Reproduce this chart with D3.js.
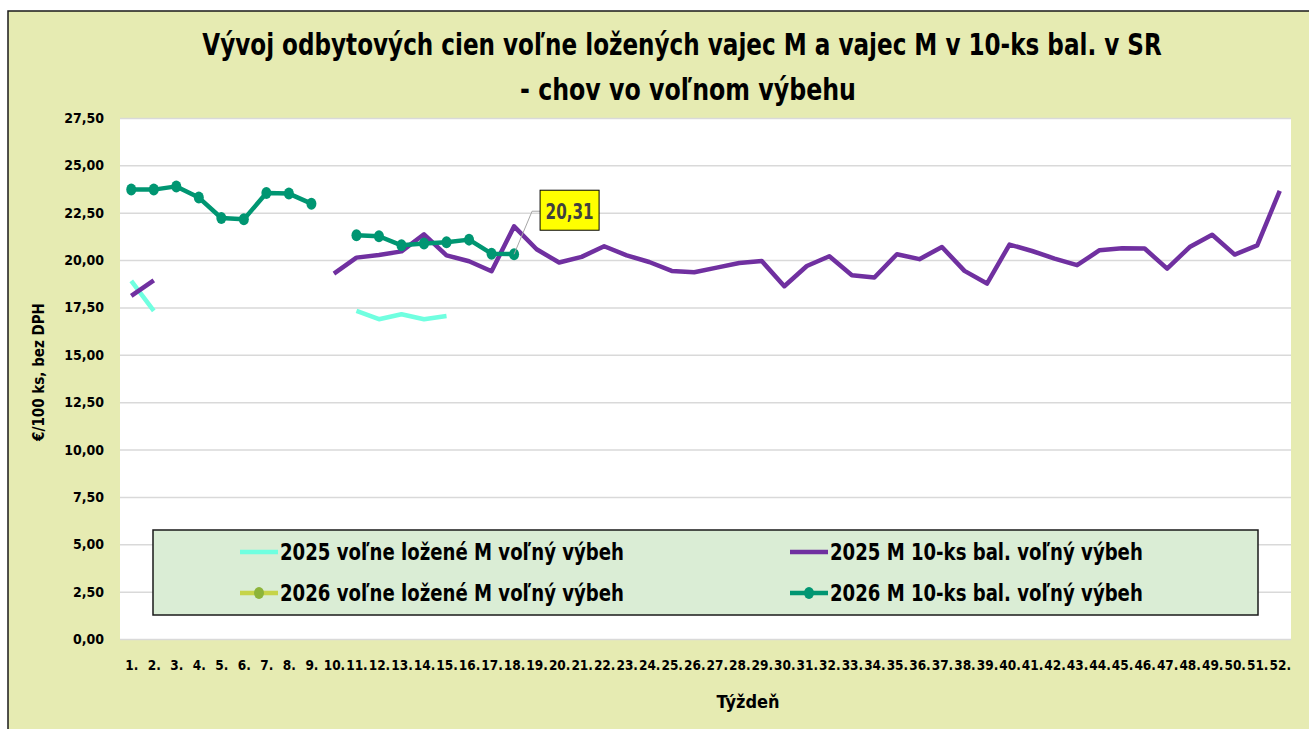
<!DOCTYPE html>
<html>
<head>
<meta charset="utf-8">
<script src="https://cdn.jsdelivr.net/npm/d3@7"></script>
<style>
  body { margin: 0; background: #fff; }
  svg text { font-family: "DejaVu Sans Condensed", "Liberation Sans Narrow", sans-serif; font-weight: bold; }
</style>
</head>
<body>
<svg id="chart" width="1309" height="729"></svg>
<script>
// týždne
const weeks = ["1.","2.","3.","4.","5.","6.","7.","8.","9.","10.","11.","12.","13.","14.","15.","16.","17.","18.",
  "19.","20.","21.","22.","23.","24.","25.","26.","27.","28.","29.","30.","31.","32.","33.","34.","35.","36.",
  "37.","38.","39.","40.","41.","42.","43.","44.","45.","46.","47.","48.","49.","50.","51.","52."]

const yTicks = [0, 2.5, 5, 7.5, 10, 12.5, 15, 17.5, 20, 22.5, 25, 27.5]

// 2025 voľne ložené M voľný výbeh
const loose2025 = [18.90, 17.32, null, null, null, null, null, null, null, null,
  17.32, 16.88, 17.14, 16.88, 17.05]

// 2025 M 10-ks bal. voľný výbeh
const pack2025 = [18.11, 18.93, null, null, null, null, null, null, null,
  19.29, 20.13, 20.27, 20.46, 21.36, 20.25, 19.94, 19.41, 21.78, 20.57, 19.87,
  20.17, 20.73, 20.25, 19.90, 19.43, 19.36, 19.60, 19.85, 19.95, 18.62, 19.69,
  20.20, 19.20, 19.08, 20.31, 20.05, 20.69, 19.43, 18.76, 20.82, 20.48, 20.08,
  19.73, 20.52, 20.62, 20.61, 19.55, 20.69, 21.34, 20.29, 20.78, 23.65]

// 2026 voľne ložené M voľný výbeh (zatiaľ bez údajov)
const loose2026 = []

// 2026 M 10-ks bal. voľný výbeh
const pack2026 = [23.72, 23.72, 23.89, 23.30, 22.22, 22.15, 23.54, 23.51, 22.98, null,
  21.31, 21.26, 20.78, 20.87, 20.94, 21.08, 20.34, 20.31]

const seriesNames = ["2025 voľne ložené M voľný výbeh", "2025 M 10-ks bal. voľný výbeh",
  "2026 voľne ložené M voľný výbeh", "2026 M 10-ks bal. voľný výbeh"]

const series = [
  {name: seriesNames[0], values: loose2025, color: "#70FFE0", marker: null, w: 344},
  {name: seriesNames[1], values: pack2025, color: "#7030A0", marker: null, w: 313},
  {name: seriesNames[2], values: loose2026, color: "#C6D449", marker: "#8DB43A", w: 344},
  {name: seriesNames[3], values: pack2026, color: "#009672", marker: "#009672", w: 313}
]

const svg = d3.select("#chart")
const plot = {left: 120, right: 1291, top: 118, bottom: 639}

// vodorovne zúži text (cez transform) na cieľovú šírku
function squeeze(parent, cx, cy, size, txt, target, anchor) {
  const g = parent.append("g")
  const t = g.append("text")
     .attr("text-anchor", anchor || "middle")
     .style("font-size", size + "px")
     .text(txt)
  const len = t.node().getComputedTextLength()
  const k = len > target ? target / len : 1
  g.attr("transform", `translate(${cx},${cy}) scale(${k},1)`)
  return t
}

// pozadie grafu
svg.append("rect")
   .attr("x", 8).attr("y", 11)
   .attr("width", 1320).attr("height", 740)
   .attr("fill", "#E6EBB2")
   .attr("stroke", "#1a1a1a")
   .attr("stroke-width", 1.5)

svg.append("rect")
   .attr("x", plot.left).attr("y", plot.top)
   .attr("width", plot.right - plot.left).attr("height", plot.bottom - plot.top)
   .attr("fill", "#fff")

// titulok
squeeze(svg, 682, 55, 31, "Vývoj odbytových cien voľne ložených vajec M a vajec M v 10-ks bal. v SR", 960)
squeeze(svg, 688, 100, 31, "- chov vo voľnom výbehu", 336)

// škály
const x = d3.scalePoint()
            .domain(weeks)
            .range([plot.left, plot.right])
            .padding(0.5)

const y = d3.scaleLinear()
            .domain([0, 27.5])
            .range([plot.bottom, plot.top])

const fmt = d => d3.format(".2f")(d).replace(".", ",")

// mriežka
svg.append("g")
   .attr("transform", `translate(${plot.left},0)`)
   .call(d3.axisLeft(y).tickValues(yTicks).tickSize(-(plot.right - plot.left)).tickFormat(""))
   .call(g => g.select(".domain").remove())
   .call(g => g.selectAll("line").attr("stroke", "#d9d9d9").attr("stroke-width", 1.5))

// os Y
svg.append("g")
   .attr("transform", `translate(${plot.left},0)`)
   .call(d3.axisLeft(y).tickValues(yTicks).tickSize(0).tickPadding(16).tickFormat(fmt))
   .call(g => g.select(".domain").remove())
   .call(g => g.selectAll("text").style("font-size", "14px").attr("fill", "#000")
      .style("font-family", "'DejaVu Sans Condensed', sans-serif"))

// os X
svg.append("g")
   .attr("transform", `translate(0,${plot.bottom})`)
   .call(d3.axisBottom(x).tickSize(0).tickPadding(21))
   .call(g => g.select(".domain").remove())
   .call(g => g.selectAll("text").style("font-size", "13.5px").attr("fill", "#000")
      .style("font-family", "'DejaVu Sans Condensed', sans-serif"))

svg.append("text")
   .attr("x", 748).attr("y", 708)
   .attr("text-anchor", "middle")
   .style("font-size", "18px")
   .text("Týždeň")

svg.append("text")
   .attr("transform", "translate(44,372) rotate(-90)")
   .attr("text-anchor", "middle")
   .style("font-size", "15px")
   .text("€/100 ks, bez DPH")

// čiary
const line = d3.line()
   .defined(d => d.v != null)
   .x(d => x(d.w))
   .y(d => y(d.v))

series.forEach(s => {
  const pts = weeks.map((w, i) => ({w: w, v: s.values[i] == null ? null : s.values[i]}))
  svg.append("path")
     .datum(pts)
     .attr("fill", "none")
     .attr("stroke", s.color)
     .attr("stroke-width", 4.5)
     .attr("stroke-linejoin", "round")
     .attr("d", line)
  if (s.marker) {
    svg.append("g")
       .selectAll("ellipse")
       .data(pts.filter(d => d.v != null))
       .enter()
       .append("ellipse")
       .attr("cx", d => x(d.w))
       .attr("cy", d => y(d.v))
       .attr("rx", 5)
       .attr("ry", 6)
       .attr("fill", s.marker)
  }
})

// popis poslednej hodnoty
const lastIdx = pack2026.length - 1
const lx = x(weeks[lastIdx]), ly = y(pack2026[lastIdx])
svg.append("polyline")
   .attr("points", `${lx},${ly} ${lx + 18},${ly - 43} ${lx + 26},${ly - 43}`)
   .attr("fill", "none")
   .attr("stroke", "#a6a6a6")
   .attr("stroke-width", 1)
svg.append("rect")
   .attr("x", lx + 26).attr("y", ly - 64)
   .attr("width", 59).attr("height", 40)
   .attr("fill", "#FFFF00")
   .attr("stroke", "#000")
   .attr("stroke-width", 1)
squeeze(svg, lx + 55.5, ly - 35, 22, fmt(pack2026[lastIdx]), 48).attr("fill", "#404040")

// legenda
const legend = svg.append("g")
legend.append("rect")
   .attr("x", 153).attr("y", 530)
   .attr("width", 1105).attr("height", 85)
   .attr("fill", "#DAEDD5")
   .attr("stroke", "#1a1a1a")
   .attr("stroke-width", 1.5)

const legendPos = [[240, 552], [790, 552], [240, 593], [790, 593]]
series.forEach((s, i) => {
  const g = legend.append("g")
     .attr("transform", `translate(${legendPos[i][0]},${legendPos[i][1]})`)
  g.append("line")
   .attr("x1", 0).attr("x2", 38)
   .attr("stroke", s.color)
   .attr("stroke-width", 4.5)
  if (s.marker) {
    g.append("ellipse")
     .attr("cx", 19).attr("rx", 5).attr("ry", 6)
     .attr("fill", s.marker)
  }
  squeeze(g, 40, 8, 23, s.name, s.w, "start")
})
</script>
</body>
</html>
